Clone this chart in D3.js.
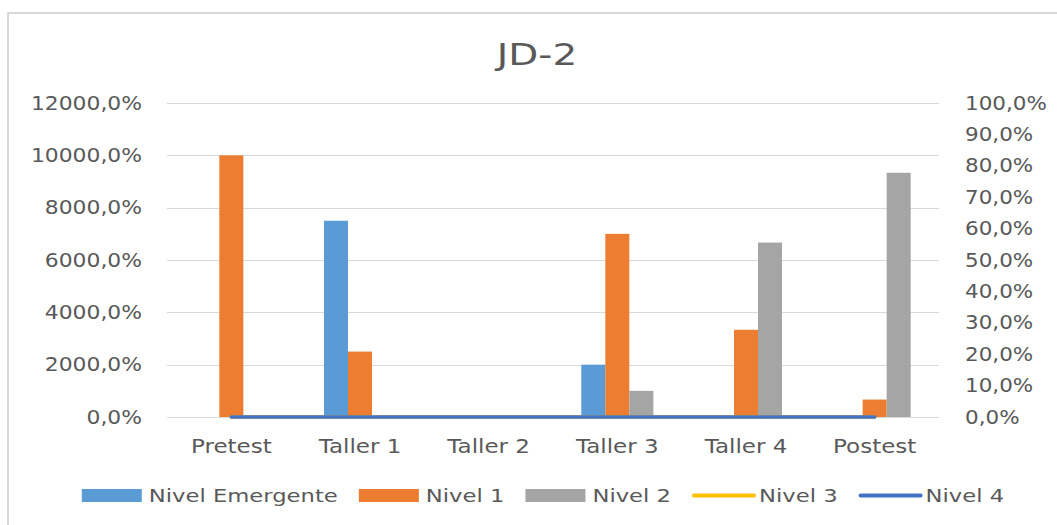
<!DOCTYPE html>
<html>
<head>
<meta charset="utf-8">
<script src="https://cdn.jsdelivr.net/npm/d3@7"></script>
<style>
  html, body { margin: 0; padding: 0; background: #fff; }
  svg { display: block; }
  text { font-family: "DejaVu Sans", sans-serif; fill: #595959; }
</style>
</head>
<body>
<svg id="chart" width="1057" height="525"></svg>
<script>
// ---- Data ----
const categories = ["Pretest", "Taller 1", "Taller 2", "Taller 3", "Taller 4", "Postest"];
const nivelEmergente = [0, 7500, 0, 2000, 0, 0];
const nivel1 = [10000, 2500, 0, 7000, 3333.3, 666.7];
const nivel2 = [0, 0, 0, 1000, 6666.7, 9333.3];
const nivel3 = [0, 0, 0, 0, 0, 0];
const nivel4 = [0, 0, 0, 0, 0, 0];
const leftTicks = [0, 2000, 4000, 6000, 8000, 10000, 12000];
const rightTicks = [0, 0.1, 0.2, 0.3, 0.4, 0.5, 0.6, 0.7, 0.8, 0.9, 1.0];
const title = "JD-2";
const barSeries = [
  { name: "Nivel Emergente", values: nivelEmergente, color: "#5B9BD5" },
  { name: "Nivel 1", values: nivel1, color: "#ED7D31" },
  { name: "Nivel 2", values: nivel2, color: "#A5A5A5" }
];
const lineSeries = [
  { name: "Nivel 3", values: nivel3, color: "#FFC000" },
  { name: "Nivel 4", values: nivel4, color: "#4472C4" }
];

// ---- Layout ----
const svg = d3.select("#chart");
const plot = { left: 167, right: 939, top: 103, bottom: 417 };

function stretch(sel, sx) {
  sel.each(function () {
    const t = d3.select(this);
    const x = +t.attr("x") || 0, y = +t.attr("y") || 0;
    t.attr("x", 0).attr("y", 0)
     .attr("transform", `translate(${x},${y}) scale(${sx},1)`);
  });
}
const fmtPct = v => d3.format(".1f")(v).replace(".", ",") + "%";

// chart area border
svg.append("rect").attr("x", 8).attr("y", 13).attr("width", 1070).attr("height", 530)
  .attr("fill", "none").attr("stroke", "#D9D9D9").attr("stroke-width", 2);

// title
svg.append("text").attr("x", 537).attr("y", 65).attr("text-anchor", "middle")
  .style("font-size", "30px").text(title).call(stretch, 1.3);

// scales
const x0 = d3.scaleBand().domain(categories).range([plot.left, plot.right]).padding(0);
const groupW = x0.bandwidth() * 0.56;
const x1 = d3.scaleBand().domain(barSeries.map(s => s.name)).range([0, groupW]).padding(0);
const yL = d3.scaleLinear().domain([0, 12000]).range([plot.bottom, plot.top]);
const yR = d3.scaleLinear().domain([0, 1]).range([plot.bottom, plot.top]);

// gridlines
svg.append("g").selectAll("line").data(leftTicks).join("line")
  .attr("x1", plot.left).attr("x2", plot.right)
  .attr("y1", d => Math.round(yL(d)) + 0.5).attr("y2", d => Math.round(yL(d)) + 0.5)
  .attr("stroke", "#D9D9D9").attr("stroke-width", 1);

// left axis
const gL = svg.append("g").attr("transform", `translate(${plot.left},0)`)
  .call(d3.axisLeft(yL).tickValues(leftTicks).tickFormat(fmtPct).tickSize(0).tickPadding(25));
gL.select(".domain").remove();
gL.selectAll("text").style("font-size", "19px").style("font-family", "DejaVu Sans").attr("fill", "#595959").call(stretch, 1.15);

// right axis
const gR = svg.append("g").attr("transform", `translate(${plot.right},0)`)
  .call(d3.axisRight(yR).tickValues(rightTicks).tickFormat(d => fmtPct(d * 100)).tickSize(0).tickPadding(26));
gR.select(".domain").remove();
gR.selectAll("text").style("font-size", "19px").style("font-family", "DejaVu Sans").attr("fill", "#595959").call(stretch, 1.13);

// bottom axis
const gB = svg.append("g").attr("transform", `translate(0,${plot.bottom})`)
  .call(d3.axisBottom(x0).tickSize(0).tickPadding(22));
gB.select(".domain").remove();
gB.selectAll("text").style("font-size", "20px").style("font-family", "DejaVu Sans").attr("fill", "#595959").call(stretch, 1.15);

// bars
const offset = (x0.bandwidth() - groupW) / 2;
barSeries.forEach(s => {
  svg.append("g").selectAll("rect").data(categories.map((c, i) => ({ c, v: s.values[i] })))
    .join("rect")
    .attr("x", d => x0(d.c) + offset + x1(s.name))
    .attr("width", x1.bandwidth())
    .attr("y", d => yL(d.v))
    .attr("height", d => yL(0) - yL(d.v))
    .attr("fill", s.color);
});

// lines (secondary axis)
lineSeries.forEach(s => {
  const line = d3.line()
    .x((d, i) => x0(categories[i]) + x0.bandwidth() / 2)
    .y(d => yR(d));
  svg.append("path").datum(s.values).attr("d", line)
    .attr("fill", "none").attr("stroke", s.color).attr("stroke-width", 3.5)
    .attr("stroke-linecap", "round");
});

// legend
const legendItems = [
  ...barSeries.map(s => ({ name: s.name, color: s.color, type: "bar" })),
  ...lineSeries.map(s => ({ name: s.name, color: s.color, type: "line" }))
];
const lg = svg.append("g");
let cx = 0;
const ly = 495.5;
legendItems.forEach(it => {
  const g = lg.append("g");
  if (it.type === "bar") {
    g.append("rect").attr("x", cx).attr("y", ly - 6.5).attr("width", 60).attr("height", 13).attr("fill", it.color);
  } else {
    g.append("line").attr("x1", cx + 2).attr("x2", cx + 62).attr("y1", ly).attr("y2", ly)
      .attr("stroke", it.color).attr("stroke-width", 4).attr("stroke-linecap", "round");
  }
  const t = g.append("text").attr("x", cx + (it.type === "bar" ? 67 : 67)).attr("y", ly).attr("dy", "0.35em")
    .style("font-size", "18px").text(it.name);
  const w = t.node().getComputedTextLength() * 1.26;
  t.call(stretch, 1.26);
  cx += 67 + w + 21;
});
const totalW = cx - 21;
lg.attr("transform", `translate(${543 - totalW / 2},0)`);
</script>
</body>
</html>
